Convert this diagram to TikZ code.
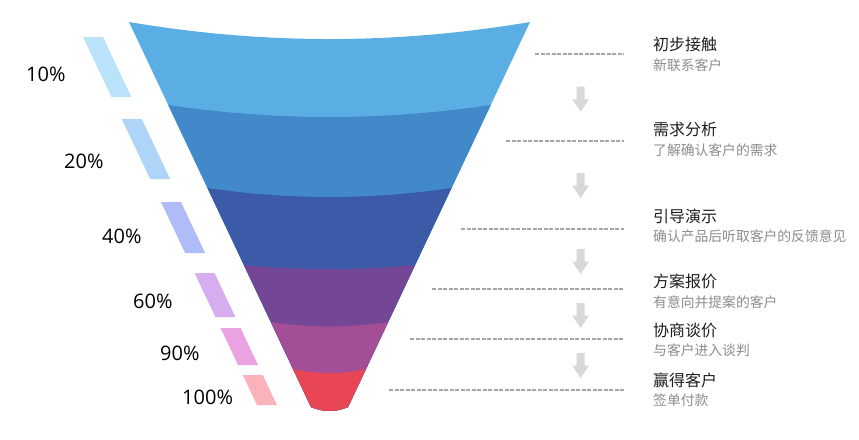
\documentclass[tikz,border=0pt]{standalone}
\usepackage{fontspec}
\setmainfont{Noto Sans CJK SC}
\newfontfamily\pctfont{Open Sans}
\definecolor{bandA}{HTML}{5BAEE3}
\definecolor{bandB}{HTML}{4189C8}
\definecolor{bandC}{HTML}{3B5BA9}
\definecolor{bandD}{HTML}{734796}
\definecolor{bandE}{HTML}{A34E96}
\definecolor{bandF}{HTML}{E84555}
\definecolor{stripeA}{HTML}{BAE3FB}
\definecolor{stripeB}{HTML}{AED4F8}
\definecolor{stripeC}{HTML}{B0BCF8}
\definecolor{stripeD}{HTML}{D6AEF0}
\definecolor{stripeE}{HTML}{EAA3E0}
\definecolor{stripeF}{HTML}{FBB3BA}
\definecolor{dashgray}{HTML}{A6A6A6}
\definecolor{arrowgray}{HTML}{D9D8D6}
\definecolor{titlecol}{HTML}{1E1E1E}
\definecolor{subcol}{HTML}{8C8C8C}
\tikzset{
  pct/.style={anchor=base west, inner sep=0pt, font=\pctfont\fontsize{20}{24}\selectfont, text=black},
  ttl/.style={anchor=base west, inner sep=0pt, font=\fontsize{16}{18}\selectfont, text=titlecol},
  sub/.style={anchor=base west, inner sep=0pt, font=\fontsize{13.8}{16}\selectfont, text=subcol},
  guide/.style={draw=dashgray, line width=1.2pt, dash pattern=on 4pt off 1.5pt},
  downarrow/.style={fill=arrowgray, draw=none},
}
% stripe: #1 top y, #2 bottom y, #3 colour
\newcommand\mystripe[3]{%
  \fill[#3] ({83+(#1-37)*0.4727},#1) -- ({103+(#1-37)*0.4727},#1)
    -- ({103+(#2-37)*0.4727},#2) -- ({83+(#2-37)*0.4727},#2) -- cycle;}
% down arrow: #1 top y
\newcommand\mydownarrow[1]{%
  \fill[downarrow] (576.7,#1) -- (584.5,#1) -- (584.5,{#1+12.6}) -- (589,{#1+12.6})
    -- (580.6,{#1+25}) -- (572.2,{#1+12.6}) -- (576.7,{#1+12.6}) -- cycle;}
\begin{document}
\begin{tikzpicture}[x=1pt,y=-1pt]
\useasboundingbox (0,0) rectangle (859,439);
% funnel bands (each fills from its top boundary to the bottom)
\fill[bandA] (129,22) .. controls (262.7,44.7) and (396.3,44.7) .. (530,22)
  -- (348,407) .. controls (335.7,412.3) and (323.3,412.3) .. (311,407) -- cycle;
\fill[bandB] (168.2,105) .. controls (275.7,121) and (383.3,121) .. (490.8,105)
  -- (348,407) .. controls (335.7,412.3) and (323.3,412.3) .. (311,407) -- cycle;
\fill[bandC] (207.5,188) .. controls (288.8,200) and (370.2,200) .. (451.5,188)
  -- (348,407) .. controls (335.7,412.3) and (323.3,412.3) .. (311,407) -- cycle;
\fill[bandD] (243.9,265) .. controls (301.0,270.5) and (358.0,270.5) .. (415.1,265)
  -- (348,407) .. controls (335.7,412.3) and (323.3,412.3) .. (311,407) -- cycle;
\fill[bandE] (270.8,322) .. controls (310.0,328) and (349.1,328) .. (388.2,322)
  -- (348,407) .. controls (335.7,412.3) and (323.3,412.3) .. (311,407) -- cycle;
\fill[bandF] (293.0,369) .. controls (317.3,374.5) and (341.7,374.5) .. (366.0,369)
  -- (348,407) .. controls (335.7,412.3) and (323.3,412.3) .. (311,407) -- cycle;
% slanted stripes
\mystripe{37}{97}{stripeA}
\mystripe{119}{179}{stripeB}
\mystripe{202}{253}{stripeC}
\mystripe{273}{317}{stripeD}
\mystripe{328}{365}{stripeE}
\mystripe{375}{405}{stripeF}
% percentages
\node[pct] (p1) at (26,81.7) {10\%};
\node[pct] (p2) at (64,168.3) {20\%};
\node[pct] (p3) at (102,243.3) {40\%};
\node[pct] (p4) at (133,308.3) {60\%};
\node[pct] (p5) at (160,360) {90\%};
\node[pct] (p6) at (182,404) {100\%};
% stage texts
\node[ttl] (t1) at (653,50) {初步接触};
\node[sub] (s1) at (653,70.5) {新联系客户};
\node[ttl] (t2) at (653,135) {需求分析};
\node[sub] (s2) at (653,155) {了解确认客户的需求};
\node[ttl] (t3) at (653,222) {引导演示};
\node[sub] (s3) at (653,241) {确认产品后听取客户的反馈意见};
\node[ttl] (t4) at (653,287) {方案报价};
\node[sub] (s4) at (653,307) {有意向并提案的客户};
\node[ttl] (t5) at (653,336) {协商谈价};
\node[sub] (s5) at (653,355) {与客户进入谈判};
\node[ttl] (t6) at (653,386) {赢得客户};
\node[sub] (s6) at (653,405) {签单付款};
% dashed guide lines
\coordinate (g1a) at (535,54);  \coordinate (g1b) at (624,54);
\coordinate (g2a) at (506,141); \coordinate (g2b) at (624,141);
\coordinate (g3a) at (461,229); \coordinate (g3b) at (624,229);
\coordinate (g4a) at (432,289); \coordinate (g4b) at (624,289);
\coordinate (g5a) at (410,339); \coordinate (g5b) at (624,339);
\coordinate (g6a) at (389,390); \coordinate (g6b) at (624,390);
\draw[guide] (g1a) -- (g1b);
\draw[guide] (g2a) -- (g2b);
\draw[guide] (g3a) -- (g3b);
\draw[guide] (g4a) -- (g4b);
\draw[guide] (g5a) -- (g5b);
\draw[guide] (g6a) -- (g6b);
% down arrows
\mydownarrow{86.7}
\mydownarrow{173}
\mydownarrow{249}
\mydownarrow{303}
\mydownarrow{353}
\end{tikzpicture}
\end{document}
